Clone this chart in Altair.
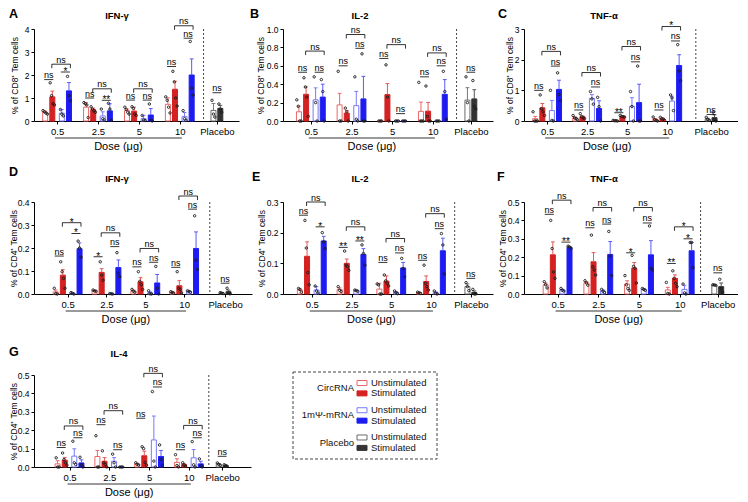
import altair as alt
import pandas as pd

FONT = "Liberation Sans"

# ---------------- categories / labels ----------------
DOSES = ["0.5", "2.5", "5", "10"]
PLACEBO_LABEL = "Placebo"
DOSE_TITLE = "Dose (μg)"
SERIES_KEYS = ["circ_u", "circ_s", "mrna_u", "mrna_s", "plac_u", "plac_s"]
LEGEND_GROUPS = ["CircRNA", "1mΨ-mRNA", "Placebo"]
LEGEND_CONDS = ["Unstimulated", "Stimulated"]

LETTERS = ["A", "B", "C", "D", "E", "F", "G"]
CYTOKINES = ["IFN-γ", "IL-2", "TNF-α", "IFN-γ", "IL-2", "TNF-α", "IL-4"]
YTITLES = ["% of CD8⁺ Tem cells"] * 3 + ["% of CD4⁺ Tem cells"] * 4
YMAX = [4, 1.0, 3, 0.4, 0.3, 0.5, 0.5]
YTICKS = [
    [0, 1, 2, 3, 4],
    [0, 0.2, 0.4, 0.6, 0.8, 1.0],
    [0, 1, 2, 3],
    [0, 0.1, 0.2, 0.3, 0.4],
    [0, 0.1, 0.2, 0.3],
    [0, 0.1, 0.2, 0.3, 0.4, 0.5],
    [0, 0.1, 0.2, 0.3, 0.4, 0.5],
]
YFORMAT = ["d", ".1f", "d", ".1f", ".1f", ".1f", ".1f"]

# ---------------- data: per dose [circ unstim, circ stim, mRNA unstim, mRNA stim], last = placebo [unstim, stim]
A_mean = [[0.38, 1.05, 0.34, 1.31], [0.60, 0.49, 0.22, 0.44], [0.45, 0.43, 0.10, 0.26], [0.725, 1.38, 0.19, 2.00], [0.46, 0.55]]
A_sem = [[0.05, 0.25, 0.16, 0.36], [0.20, 0.07, 0.18, 0.31], [0.07, 0.17, 0.14, 0.28], [0.28, 0.35, 0.18, 0.70], [0.30, 0.13]]
A_pts = [
    [[0.45, 0.40, 0.35, 0.30], [1.66, 1.10, 0.75, 0.70], [0.50, 0.30, 0.22], [1.94, 1.10, 0.88]],
    [[0.80, 0.75, 0.70, 0.15], [0.62, 0.52, 0.45, 0.38], [0.52, 0.10, 0.05], [0.77, 0.52, 0.03]],
    [[0.60, 0.50, 0.38, 0.30], [0.62, 0.55, 0.30, 0.24], [0.24, 0.04, 0.02], [0.74, 0.03, 0.00]],
    [[1.05, 0.90, 0.60, 0.35], [2.16, 1.70, 1.00, 0.65], [0.45, 0.10, 0.03], [3.46, 1.42, 1.13]],
    [[0.90, 0.30, 0.17], [0.74, 0.52, 0.38]],
]
A_sig = [[("ns", 1.80), ("*", 2.13), ("ns", 2.47)], [("ns", 1.00), ("**", 0.90), ("ns", 1.40)],
         [("ns", 0.91), ("ns", 0.91), ("ns", 1.40)], [("ns", 2.37), ("ns", 3.60), ("ns", 4.14)], [("ns", 1.23)]]

B_mean = [[0.10, 0.29, 0.23, 0.26], [0.175, 0.085, 0.167, 0.24], [0.0, 0.287, 0.0, 0.0], [0.105, 0.107, 0.0, 0.29], [0.227, 0.24]]
B_sem = [[0.06, 0.08, 0.13, 0.14], [0.125, 0.03, 0.155, 0.245], [0.0, 0.12, 0.0, 0.0], [0.10, 0.095, 0.0, 0.16], [0.135, 0.10]]
B_pts = [
    [[0.23, 0.16, 0.0, 0.0], [0.47, 0.37, 0.26, 0.05], [0.48, 0.20, 0.0], [0.45, 0.32, 0.0]],
    [[0.54, 0.0, 0.0], [0.14, 0.10, 0.0], [0.48, 0.02, 0.0], [0.73, 0.0, 0.0]],
    [[0.0, 0.0, 0.0], [0.61, 0.26, 0.0], [0.0, 0.0, 0.0], [0.0, 0.0, 0.0]],
    [[0.42, 0.0, 0.0, 0.0], [0.38, 0.05, 0.0, 0.0], [0.0, 0.0, 0.0], [0.54, 0.32, 0.02]],
    [[0.48, 0.20, 0.0], [0.44, 0.16, 0.13]],
]
B_sig = [[("ns", 0.53), ("ns", 0.53), ("ns", 0.76)], [("ns", 0.60), ("ns", 0.79), ("ns", 0.94)],
         [("ns", 0.68), ("ns", 0.08), ("ns", 0.83)], [("ns", 0.48), ("ns", 0.60), ("ns", 0.74)], [("ns", 0.53)]]

C_mean = [[0.075, 0.43, 0.34, 1.03], [0.10, 0.14, 0.74, 0.41], [0.01, 0.15, 0.48, 0.60], [0.05, 0.07, 0.65, 1.81], [0.063, 0.11]]
C_sem = [[0.075, 0.14, 0.33, 0.30], [0.03, 0.03, 0.12, 0.25], [0.005, 0.01, 0.28, 0.60], [0.03, 0.02, 0.16, 0.35], [0.03, 0.09]]
C_pts = [
    [[0.30, 0.0, 0.0, 0.0], [0.85, 0.40, 0.30, 0.18], [1.00, 0.02, 0.0], [1.57, 0.86, 0.66]],
    [[0.18, 0.10, 0.08, 0.04], [0.24, 0.14, 0.10, 0.08], [0.96, 0.72, 0.55], [0.77, 0.47, 0.0]],
    [[0.02, 0.01, 0.01, 0.0], [0.18, 0.15, 0.14, 0.13], [0.96, 0.47, 0.0], [1.79, 0.0, 0.0]],
    [[0.13, 0.04, 0.02, 0.0], [0.12, 0.08, 0.06, 0.02], [0.85, 0.75, 0.34], [2.49, 1.63, 1.31]],
    [[0.12, 0.05, 0.02], [0.29, 0.05, 0.0]],
]
C_sig = [[("ns", 1.00), ("ns", 1.79), ("ns", 2.27)], [("ns", 0.36), ("ns", 1.11), ("ns", 1.58)],
         [("**", 0.27), ("ns", 1.93), ("ns", 2.43)], [("ns", 0.36), ("ns", 2.61), ("*", 3.08)], [("ns", 0.21)]]

D_mean = [[0.009, 0.082, 0.003, 0.197], [0.014, 0.094, 0.001, 0.115], [0.013, 0.053, 0.005, 0.048], [0.007, 0.036, 0.011, 0.198], [0.004, 0.010]]
D_sem = [[0.008, 0.024, 0.002, 0.025], [0.002, 0.016, 0.001, 0.033], [0.004, 0.018, 0.004, 0.037], [0.002, 0.022, 0.002, 0.072], [0.002, 0.007]]
D_pts = [
    [[0.025, 0.002, 0.0], [0.14, 0.097, 0.068, 0.025], [0.006, 0.003, 0.0], [0.23, 0.20, 0.16]],
    [[0.017, 0.013, 0.012], [0.14, 0.082, 0.060], [0.002, 0.001, 0.0], [0.18, 0.09, 0.075]],
    [[0.020, 0.012, 0.008], [0.097, 0.055, 0.040, 0.020], [0.014, 0.001, 0.0], [0.12, 0.025, 0.0]],
    [[0.010, 0.007, 0.004], [0.097, 0.025, 0.020, 0.005], [0.014, 0.011, 0.008], [0.34, 0.147, 0.107]],
    [[0.006, 0.004, 0.002], [0.025, 0.004, 0.001]],
]
D_sig = [[("ns", 0.165), ("*", 0.263), ("*", 0.31)], [("*", 0.162), ("ns", 0.206), ("ns", 0.266)],
         [("ns", 0.118), ("ns", 0.138), ("ns", 0.198)], [("ns", 0.116), ("ns", 0.369), ("ns", 0.426)], [("ns", 0.047)]]

E_mean = [[0.013, 0.123, 0.013, 0.173], [0.015, 0.10, 0.011, 0.129], [0.016, 0.042, 0.005, 0.085], [0.004, 0.041, 0.004, 0.141], [0.024, 0.005]]
E_sem = [[0.003, 0.047, 0.011, 0.015], [0.005, 0.014, 0.001, 0.019], [0.019, 0.017, 0.003, 0.018], [0.001, 0.018, 0.003, 0.041], [0.009, 0.005]]
E_pts = [
    [[0.018, 0.015, 0.006], [0.24, 0.15, 0.07, 0.03], [0.026, 0.010, 0.003], [0.20, 0.17, 0.148]],
    [[0.024, 0.012, 0.008], [0.14, 0.094, 0.089, 0.077], [0.013, 0.011, 0.009], [0.16, 0.132, 0.094]],
    [[0.033, 0.030, 0.0, 0.0], [0.062, 0.043, 0.035, 0.026], [0.010, 0.004, 0.001], [0.116, 0.083, 0.056]],
    [[0.006, 0.004, 0.002], [0.094, 0.035, 0.024, 0.013], [0.010, 0.002, 0.0], [0.197, 0.16, 0.065]],
    [[0.037, 0.024, 0.011], [0.015, 0.0, 0.0]],
]
E_sig = [[("ns", 0.257), ("*", 0.219), ("ns", 0.30)], [("**", 0.152), ("**", 0.173), ("ns", 0.219)],
         [("ns", 0.103), ("ns", 0.134), ("ns", 0.181)], [("ns", 0.11), ("ns", 0.213), ("ns", 0.262)], [("ns", 0.051)]]

F_mean = [[0.05, 0.213, 0.022, 0.254], [0.06, 0.175, 0.016, 0.215], [0.054, 0.14, 0.025, 0.213], [0.022, 0.085, 0.025, 0.235], [0.049, 0.04]]
F_sem = [[0.01, 0.07, 0.004, 0.004], [0.007, 0.05, 0.005, 0.07], [0.018, 0.031, 0.003, 0.077], [0.014, 0.019, 0.022, 0.045], [0.001, 0.02]]
F_pts = [
    [[0.067, 0.050, 0.033], [0.40, 0.247, 0.12, 0.085], [0.030, 0.020, 0.016], [0.26, 0.256, 0.247]],
    [[0.072, 0.060, 0.048], [0.32, 0.148, 0.13, 0.103], [0.025, 0.015, 0.008], [0.34, 0.206, 0.10]],
    [[0.10, 0.05, 0.03, 0.02], [0.21, 0.15, 0.14, 0.06], [0.030, 0.025, 0.020], [0.37, 0.14, 0.13]],
    [[0.063, 0.003, 0.0], [0.126, 0.085, 0.058, 0.04], [0.054, 0.006, 0.0], [0.28, 0.28, 0.144]],
    [[0.050, 0.049, 0.047], [0.08, 0.03, 0.01]],
]
F_sig = [[("ns", 0.433), ("**", 0.282), ("ns", 0.51)], [("ns", 0.36), ("ns", 0.38), ("ns", 0.47)],
         [("*", 0.224), ("ns", 0.386), ("ns", 0.47)], [("**", 0.166), ("*", 0.30), ("*", 0.365)], [("ns", 0.115)]]

G_mean = [[0.017, 0.037, 0.059, 0.022], [0.057, 0.031, 0.031, 0.0], [0.016, 0.061, 0.147, 0.057], [0.025, 0.013, 0.05, 0.017], [0.015, 0.008]]
G_sem = [[0.017, 0.015, 0.04, 0.017], [0.033, 0.02, 0.02, 0.0], [0.004, 0.025, 0.13, 0.033], [0.02, 0.005, 0.045, 0.014], [0.004, 0.002]]
G_pts = [
    [[0.05, 0.0, 0.0], [0.076, 0.04, 0.023, 0.01], [0.14, 0.023, 0.014], [0.053, 0.012, 0.0]],
    [[0.17, 0.0, 0.0], [0.088, 0.023, 0.014, 0.0], [0.07, 0.023, 0.0], [0.0, 0.0, 0.0]],
    [[0.023, 0.014, 0.011], [0.11, 0.10, 0.025, 0.01], [0.41, 0.032, 0.0], [0.12, 0.04, 0.01]],
    [[0.067, 0.008, 0.0], [0.023, 0.011, 0.005], [0.138, 0.012, 0.0], [0.044, 0.007, 0.0]],
    [[0.022, 0.014, 0.009], [0.012, 0.008, 0.004]],
]
G_sig = [[("ns", 0.106), ("ns", 0.159), ("ns", 0.223)], [("ns", 0.23), ("ns", 0.094), ("ns", 0.306)],
         [("ns", 0.265), ("ns", 0.435), ("ns", 0.509)], [("ns", 0.094), ("ns", 0.159), ("ns", 0.226)], [("ns", 0.058)]]

DATA = {
    "A": (A_mean, A_sem, A_pts, A_sig), "B": (B_mean, B_sem, B_pts, B_sig),
    "C": (C_mean, C_sem, C_pts, C_sig), "D": (D_mean, D_sem, D_pts, D_sig),
    "E": (E_mean, E_sem, E_pts, E_sig), "F": (F_mean, F_sem, F_pts, F_sig),
    "G": (G_mean, G_sem, G_pts, G_sig),
}

# ---------------- styles ----------------
FILL_RANGE = ["#ffffff", "#d42121", "#ffffff", "#1c1cf2", "#ffffff", "#333333"]
STROKE_RANGE = ["#ec6767", "#d42121", "#7878fb", "#1c1cf2", "#6b6b6b", "#333333"]
ERR_RANGE = ["#ec6767", "#e45a5a", "#7878fb", "#5a5af8", "#777777", "#555555"]

PANEL_H = 92
BAR_OFF_PX = [-12.5, -5.0, 5.0, 12.5]
PLC_OFF_PX = [-3.6, 3.6]
JIT_PX = 1.5
CAP_PX = 2.0

# layout (panel geometry in px): axis x, first-group x, group spacing, placebo x, divider x, right end,
# letter / title offsets and y-title offset
LAYOUT = {
    "A": dict(axis=30, g0=49, sp=43.0, plc=217, dash=203, end=235, lx=-25, ly=-21, tx=83, ty=-13, ytx=-20),
    "B": dict(axis=283, g0=307, sp=42.7, plc=475, dash=460, end=493, lx=-33, ly=-21, tx=77, ty=-13, ytx=-23),
    "C": dict(axis=528, g0=547, sp=42.0, plc=719, dash=703, end=742, lx=-26, ly=-21, tx=80, ty=-13, ytx=-15),
    "D": dict(axis=30, g0=60, sp=40.7, plc=225, dash=209, end=248, lx=-25, ly=-36, tx=83, ty=-23, ytx=-21),
    "E": dict(axis=283, g0=308, sp=41.7, plc=475, dash=458, end=493, lx=-31, ly=-31, tx=77, ty=-23, ytx=-22),
    "F": dict(axis=528, g0=558, sp=42.7, plc=726, dash=708, end=742, lx=-27, ly=-31, tx=80, ty=-23, ytx=-22),
    "G": dict(axis=30, g0=62, sp=41.7, plc=222, dash=208, end=247, lx=-25, ly=-29, tx=85, ty=-21, ytx=-21),
}


def make_panel(i):
    L = LETTERS[i]
    lay = LAYOUT[L]
    means, sems, pts, sigs = DATA[L]
    sp = lay["sp"]

    def gu(px):
        return (px - lay["g0"]) / sp

    width = lay["end"] - lay["axis"]
    H = PANEL_H
    xdom = [gu(lay["axis"]), gu(lay["end"])]
    plc = gu(lay["plc"])
    dash = gu(lay["dash"])

    bars, errs, dots = [], [], []

    def add(key, x, m, s, vals):
        bars.append(dict(key=key, x=x, mean=m, base=0.0))
        if s > 0:
            errs.append(dict(key=key, x=x, xl=x - CAP_PX / sp, xr=x + CAP_PX / sp, lo=m, hi=m + s))
        n = len(vals)
        for j, v in enumerate(vals):
            dots.append(dict(x=x + (j - (n - 1) / 2) * JIT_PX / sp, v=v))

    xs = {}
    for g in range(4):
        for b in range(4):
            x = g + BAR_OFF_PX[b] / sp
            xs[(g, b)] = x
            add(SERIES_KEYS[b], x, means[g][b], sems[g][b], pts[g][b])
    for b in range(2):
        x = plc + PLC_OFF_PX[b] / sp
        xs[(4, b)] = x
        add(SERIES_KEYS[4 + b], x, means[4][b], sems[4][b], pts[4][b])

    lines, ticks, ns_txt, star_txt = [], [], [], []

    def pair(xa, xb, lab, lvl):
        lines.append(dict(x=xa - 1 / sp, x2=xb + 1 / sp, y=lvl))
        row = dict(x=(xa + xb) / 2, y=lvl, t=lab)
        (star_txt if lab.startswith("*") else ns_txt).append(row)

    for g in range(4):
        (l1, y1), (l2, y2), (l3, y3) = sigs[g]
        pair(xs[(g, 0)], xs[(g, 1)], l1, y1)
        pair(xs[(g, 2)], xs[(g, 3)], l2, y2)
        xa = xs[(g, 1)] - 0.5 / sp
        xb = xs[(g, 3)] + 1.5 / sp
        lines.append(dict(x=xa, x2=xb, y=y3))
        ticks.append(dict(x=xa, y=y3))
        ticks.append(dict(x=xb, y=y3))
        row = dict(x=(xa + xb) / 2, y=y3, t=l3)
        (star_txt if l3.startswith("*") else ns_txt).append(row)
    (lp, yp) = sigs[4][0]
    pair(xs[(4, 0)], xs[(4, 1)], lp, yp)

    label_expr = ("datum.value < 0.5 ? '%s' : datum.value < 1.5 ? '%s' : datum.value < 2.5 ? '%s' : "
                  "datum.value < 3.4 ? '%s' : '%s'") % (DOSES[0], DOSES[1], DOSES[2], DOSES[3], PLACEBO_LABEL)
    xaxis = alt.Axis(values=[0, 1, 2, 3, plc], labelExpr=label_expr, title=None, grid=False,
                     tickSize=3, labelFontSize=9.5, labelPadding=2, labelOverlap=False, labelFlush=False,
                     labelBound=False, domainColor="#000", tickColor="#000", labelColor="#000",
                     labelFont=FONT, domainWidth=1, tickWidth=1)
    yaxis = alt.Axis(values=YTICKS[i], format=YFORMAT[i], title=YTITLES[i], titleX=lay["ytx"],
                     titleBaseline="middle", titleFontSize=8.5, titleFontWeight="normal", titleFont=FONT,
                     labelFontSize=8.5, labelFont=FONT, tickSize=3, labelPadding=2, grid=False,
                     labelOverlap=False, labelFlush=False, domainColor="#000", tickColor="#000",
                     labelColor="#000", titleColor="#000", domainWidth=1, tickWidth=1)
    xscale = alt.Scale(domain=xdom, nice=False, zero=False)
    yscale = alt.Scale(domain=[0, YMAX[i]], nice=False, zero=True)

    def X(f):
        return alt.X(f, type="quantitative", scale=xscale, axis=xaxis)

    def Y(f):
        return alt.Y(f, type="quantitative", scale=yscale, axis=yaxis)

    fill = alt.Fill("key:N", scale=alt.Scale(domain=SERIES_KEYS, range=FILL_RANGE), legend=None)
    stroke = alt.Stroke("key:N", scale=alt.Scale(domain=SERIES_KEYS, range=STROKE_RANGE), legend=None)
    ecolor = alt.Color("key:N", scale=alt.Scale(domain=SERIES_KEYS, range=ERR_RANGE), legend=None)

    divider = alt.Chart(pd.DataFrame({"x": [dash]})).mark_rule(
        strokeDash=[2, 2], color="#444", strokeWidth=1).encode(
        x=X("x"), y=alt.value(0), y2=alt.value(H))
    bar_layer = alt.Chart(pd.DataFrame(bars)).mark_bar(size=5, strokeWidth=1, orient="vertical").encode(
        x=X("x"), y=Y("mean"), y2=alt.Y2("base"), fill=fill, stroke=stroke)
    layers = [divider, bar_layer]
    if errs:
        edf = pd.DataFrame(errs)
        layers.append(alt.Chart(edf).mark_rule(strokeWidth=1).encode(
            x=X("x"), y=Y("lo"), y2=alt.Y2("hi"), color=ecolor))
        layers.append(alt.Chart(edf).mark_rule(strokeWidth=1).encode(
            x=X("xl"), x2=alt.X2("xr"), y=Y("hi"), color=ecolor))
    layers.append(alt.Chart(pd.DataFrame(dots)).mark_point(
        shape="circle", size=6, filled=False, strokeWidth=0.9, color="#1a1a1a", opacity=1).encode(
        x=X("x"), y=Y("v")))
    layers.append(alt.Chart(pd.DataFrame(lines)).mark_rule(color="#000", strokeWidth=0.8).encode(
        x=X("x"), x2=alt.X2("x2"), y=Y("y")))
    layers.append(alt.Chart(pd.DataFrame(ticks)).mark_rule(color="#000", strokeWidth=0.8, y2Offset=4).encode(
        x=X("x"), y=Y("y"), y2=alt.Y2("y")))
    if ns_txt:
        layers.append(alt.Chart(pd.DataFrame(ns_txt)).mark_text(
            fontSize=9, baseline="alphabetic", dy=-1.5, font=FONT, color="#000").encode(
            x=X("x"), y=Y("y"), text="t:N"))
    if star_txt:
        layers.append(alt.Chart(pd.DataFrame(star_txt)).mark_text(
            fontSize=10, baseline="alphabetic", dy=2.8, font=FONT, color="#000").encode(
            x=X("x"), y=Y("y"), text="t:N"))
    layers.append(alt.Chart(pd.DataFrame({"x": [-0.05], "x2": [3.05]})).mark_rule(
        color="#000", strokeWidth=0.8).encode(x=X("x"), x2=alt.X2("x2"), y=alt.value(H + 17)))
    layers.append(alt.Chart(pd.DataFrame({"x": [1.5], "t": [DOSE_TITLE]})).mark_text(
        fontSize=11, baseline="middle", font=FONT, color="#000").encode(
        x=X("x"), y=alt.value(H + 26), text="t:N"))
    layers.append(alt.Chart(pd.DataFrame({"t": [L]})).mark_text(
        fontSize=12.5, fontWeight="bold", align="left", baseline="top", font=FONT, color="#000").encode(
        x=alt.value(lay["lx"]), y=alt.value(lay["ly"]), text="t:N"))
    layers.append(alt.Chart(pd.DataFrame({"t": [CYTOKINES[i]]})).mark_text(
        fontSize=9.5, fontWeight="bold", align="center", baseline="middle", font=FONT, color="#000").encode(
        x=alt.value(lay["tx"]), y=alt.value(lay["ty"]), text="t:N"))
    return alt.layer(*layers).properties(width=width, height=H)


def make_legend():
    rows, groups = [], []
    for g, grp in enumerate(LEGEND_GROUPS):
        for s, cond in enumerate(LEGEND_CONDS):
            rows.append(dict(row=g * 2.62 + s, key=SERIES_KEYS[2 * g + s], cond=cond))
        groups.append(dict(row=g * 2.62 + 0.5, grp=grp))
    row_px0, row_px = 8.0, 10.4
    ydom = [-row_px0 / row_px, (PANEL_H - row_px0) / row_px]
    ysc = alt.Scale(domain=ydom, reverse=True, nice=False, zero=False)
    fill = alt.Fill("key:N", scale=alt.Scale(domain=SERIES_KEYS, range=FILL_RANGE), legend=None)
    stroke = alt.Stroke("key:N", scale=alt.Scale(domain=SERIES_KEYS, range=STROKE_RANGE), legend=None)
    box = alt.Chart(pd.DataFrame({"b": [0]})).mark_rect(
        fillOpacity=0, stroke="#444", strokeWidth=1, strokeDash=[3, 2]).encode(
        x=alt.value(10), x2=alt.value(154), y=alt.value(-3), y2=alt.value(84))
    sw = alt.Chart(pd.DataFrame(rows)).mark_point(
        shape="M-1,-0.5L1,-0.5L1,0.5L-1,0.5Z", size=100, filled=True, strokeWidth=1, opacity=1).encode(
        x=alt.value(79), y=alt.Y("row:Q", scale=ysc, axis=None), fill=fill, stroke=stroke)
    ct = alt.Chart(pd.DataFrame(rows)).mark_text(
        align="left", baseline="middle", fontSize=9.5, font=FONT, color="#111").encode(
        x=alt.value(88), y=alt.Y("row:Q", scale=ysc, axis=None), text="cond:N")
    gt = alt.Chart(pd.DataFrame(groups)).mark_text(
        align="right", baseline="middle", fontSize=9.5, font=FONT, color="#111").encode(
        x=alt.value(71), y=alt.Y("row:Q", scale=ysc, axis=None), text="grp:N")
    return alt.layer(box, sw, ct, gt).properties(width=154, height=PANEL_H)


panels = [make_panel(i) for i in range(7)]
chart = alt.concat(*panels, make_legend(), columns=3, bounds="flush",
                   spacing={"row": 81, "column": 31}).properties(
    padding=0, background="white").configure_view(strokeWidth=0)

chart.save("out.html", embed_options={"renderer": "svg", "actions": False})
